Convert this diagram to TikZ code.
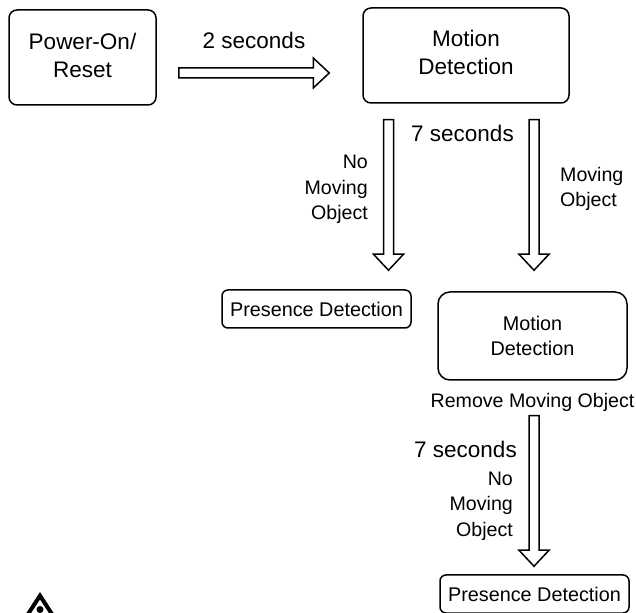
\documentclass[tikz,border=0pt]{standalone}
\usepackage{fontspec}
\usepackage{xcolor}
\usetikzlibrary{calc}
\setmainfont{Liberation Sans}
\tikzset{
    x=1pt, y=1pt,
    state-box/.style = {draw=black, fill=white, line width=1.5pt, rectangle, rounded corners=8pt, align=center, inner sep=0pt, font=\fontsize{22.5}{28}\selectfont},
    small-box/.style = {state-box, rounded corners=6pt, font=\fontsize{19.8}{25}\selectfont},
    side-label/.style = {align=right, anchor=east, inner sep=0pt, font=\fontsize{19.6}{25.5}\selectfont},
    time-label/.style = {inner sep=0pt, font=\fontsize{22.5}{26}\selectfont},
    block-arrow/.style = {draw=black, fill=white, line width=1.5pt, to path={
        ($(\tikztostart)!5pt!90:(\tikztotarget)$) --
        ($(\tikztotarget)!16pt!(\tikztostart)!5pt!90:(\tikztotarget)$) --
        ($(\tikztotarget)!16pt!(\tikztostart)!15pt!90:(\tikztotarget)$) --
        (\tikztotarget) --
        ($(\tikztotarget)!16pt!(\tikztostart)!15pt!-90:(\tikztotarget)$) --
        ($(\tikztotarget)!16pt!(\tikztostart)!5pt!-90:(\tikztotarget)$) --
        ($(\tikztostart)!5pt!-90:(\tikztotarget)$) -- cycle}},
}

\begin{document}
\begin{tikzpicture}
\useasboundingbox (0,0) rectangle (636,612);
\begin{scope}
\clip (0,0) rectangle (636,612);
\node [state-box, text depth=4pt, minimum width=147pt, minimum height=95pt] (power) at (82.5,554.5) {Power-On/\\Reset};
\node [state-box, text depth=6pt, minimum width=206pt, minimum height=95pt] (motion) at (466,556.5) {Motion\\Detection};
\node [small-box, minimum width=189pt, minimum height=38pt] (presence) at (316.5,303) {Presence Detection};
\node [small-box, rounded corners=12pt, minimum width=189pt, minimum height=88pt] (motion2) at (532.5,276) {Motion\\Detection};
\node [small-box, minimum width=189pt, minimum height=38pt] (presence2) at (534.5,18) {Presence Detection};

\node [time-label] (two) at (254,572) {2 seconds};
\node [time-label] (seven) at (462.5,479) {7 seconds};
\node [time-label] (seven2) at (465.5,163) {7 seconds};
\node [inner sep=0pt, font=\fontsize{19.6}{22}\selectfont] (remove) at (532.5,209.5) {Remove Moving Object};

\node [side-label] (nomove) at (368,422.5) {No\\Moving\\Object};
\node [side-label, align=left, anchor=west] (move) at (560,423) {Moving\\Object};
\node [side-label] (nomove2) at (513,106) {No\\Moving\\Object};

\draw [block-arrow] ([shift={(22,-15.5)}]power.east) to ([shift={(-33,-17.5)}]motion.west);
\draw [block-arrow] ([shift={(-77.5,-16)}]motion.south) to ([shift={(72,19)}]presence.north);
\draw [block-arrow] ([shift={(68,-16)}]motion.south) to ([shift={(1.5,21)}]motion2.north);
\draw [block-arrow] ([shift={(1.5,-35)}]motion2.south) to ([shift={(-0.5,8)}]presence2.north);

% warning sign, cut by the page
\draw [line width=4pt, miter limit=10] (25.5,-6) -- (40,16.3) -- (54.5,-6);
\fill (40,2.5) circle (3.5pt);
\end{scope}
\end{tikzpicture}
\end{document}
